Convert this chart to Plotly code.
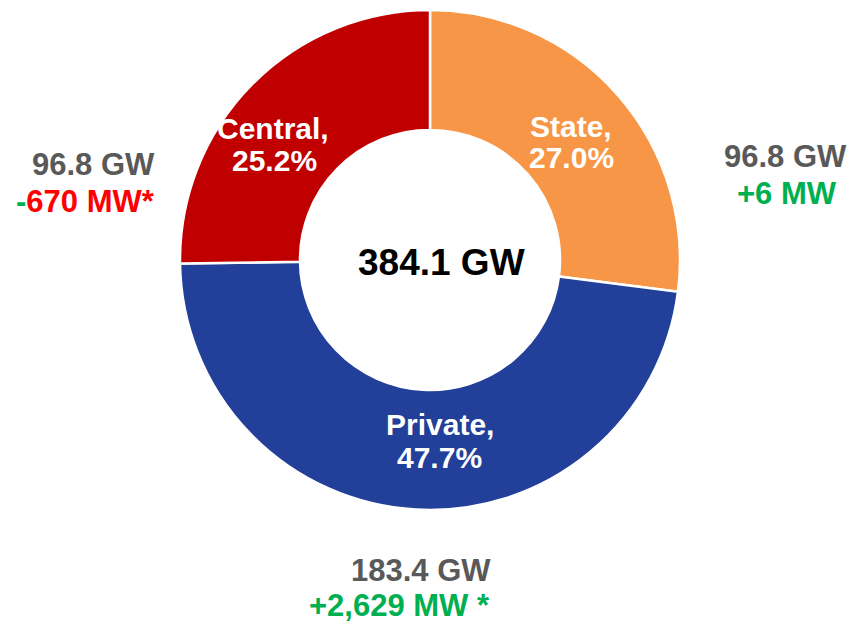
import plotly.graph_objects as go

labels = ["State", "Private", "Central"]
shares = [27.0, 47.7, 25.2]
colors = ["#F79646", "#223F99", "#C00000"]
total_label = "384.1 GW"
capacity = ["96.8 GW", "183.4 GW", "96.8 GW"]
changes = ["+6 MW", "+2,629 MW *", "<span style='color:#00B050'>-</span>670 MW*"]
change_colors = ["#00B050", "#00B050", "#FF0000"]

W, H = 851, 621
FONT = "Liberation Sans, Arial, sans-serif"

fig = go.Figure(go.Pie(
    labels=labels,
    values=shares,
    textinfo="none",
    marker=dict(colors=colors, line=dict(color="white", width=2.5)),
    hole=0.52,
    sort=False,
    direction="clockwise",
    rotation=0,
    showlegend=False,
    hoverinfo="label+value",
    domain=dict(x=[(430 - 250) / W, (430 + 250) / W], y=[1 - 510 / H, 1 - 10 / H]),
))


def px(x, y):
    return x / W, 1 - y / H


annotations = []
# center total
cx, cy = px(441, 262)
annotations.append(dict(x=cx, y=cy, text=f"<b>{total_label}</b>",
                        font=dict(family=FONT, size=37, color="black")))

# slice labels (two lines each)
slice_pos = [((571, 126), (571, 157)),   # State
             ((440, 424), (439, 457)),   # Private
             ((273, 128), (274, 160))]   # Central
for i, ((x1, y1), (x2, y2)) in enumerate(slice_pos):
    ax, ay = px(x1, y1)
    annotations.append(dict(x=ax, y=ay, text=f"<b>{labels[i]},</b>",
                            font=dict(family=FONT, size=30, color="white")))
    bx, by = px(x2, y2)
    annotations.append(dict(x=bx, y=by, text=f"<b>{shares[i]:.1f}%</b>",
                            font=dict(family=FONT, size=30, color="white")))

# outside labels
placements = [
    ((785, 156), (787, 193), "center", "center"),   # State
    ((421, 570), (492, 605), "center", "right"),    # Private
    ((157, 164), (157, 201), "right", "right"),     # Central
]
for i, ((x1, y1), (x2, y2), a1, a2) in enumerate(placements):
    ax, ay = px(x1, y1)
    annotations.append(dict(x=ax, y=ay, xanchor=a1, text=f"<b>{capacity[i]}</b>",
                            font=dict(family=FONT, size=31, color="#595959")))
    bx, by = px(x2, y2)
    annotations.append(dict(x=bx, y=by, xanchor=a2, text=f"<b>{changes[i]}</b>",
                            font=dict(family=FONT, size=31, color=change_colors[i])))

for a in annotations:
    a.update(xref="paper", yref="paper", showarrow=False, yanchor="middle")
    a.setdefault("xanchor", "center")

fig.update_layout(
    width=W, height=H,
    margin=dict(l=0, r=0, t=0, b=0),
    paper_bgcolor="white", plot_bgcolor="white",
    annotations=annotations,
)

fig.write_html("out.html", config={"displayModeBar": False},
               post_script="document.body.style.margin='0';")
